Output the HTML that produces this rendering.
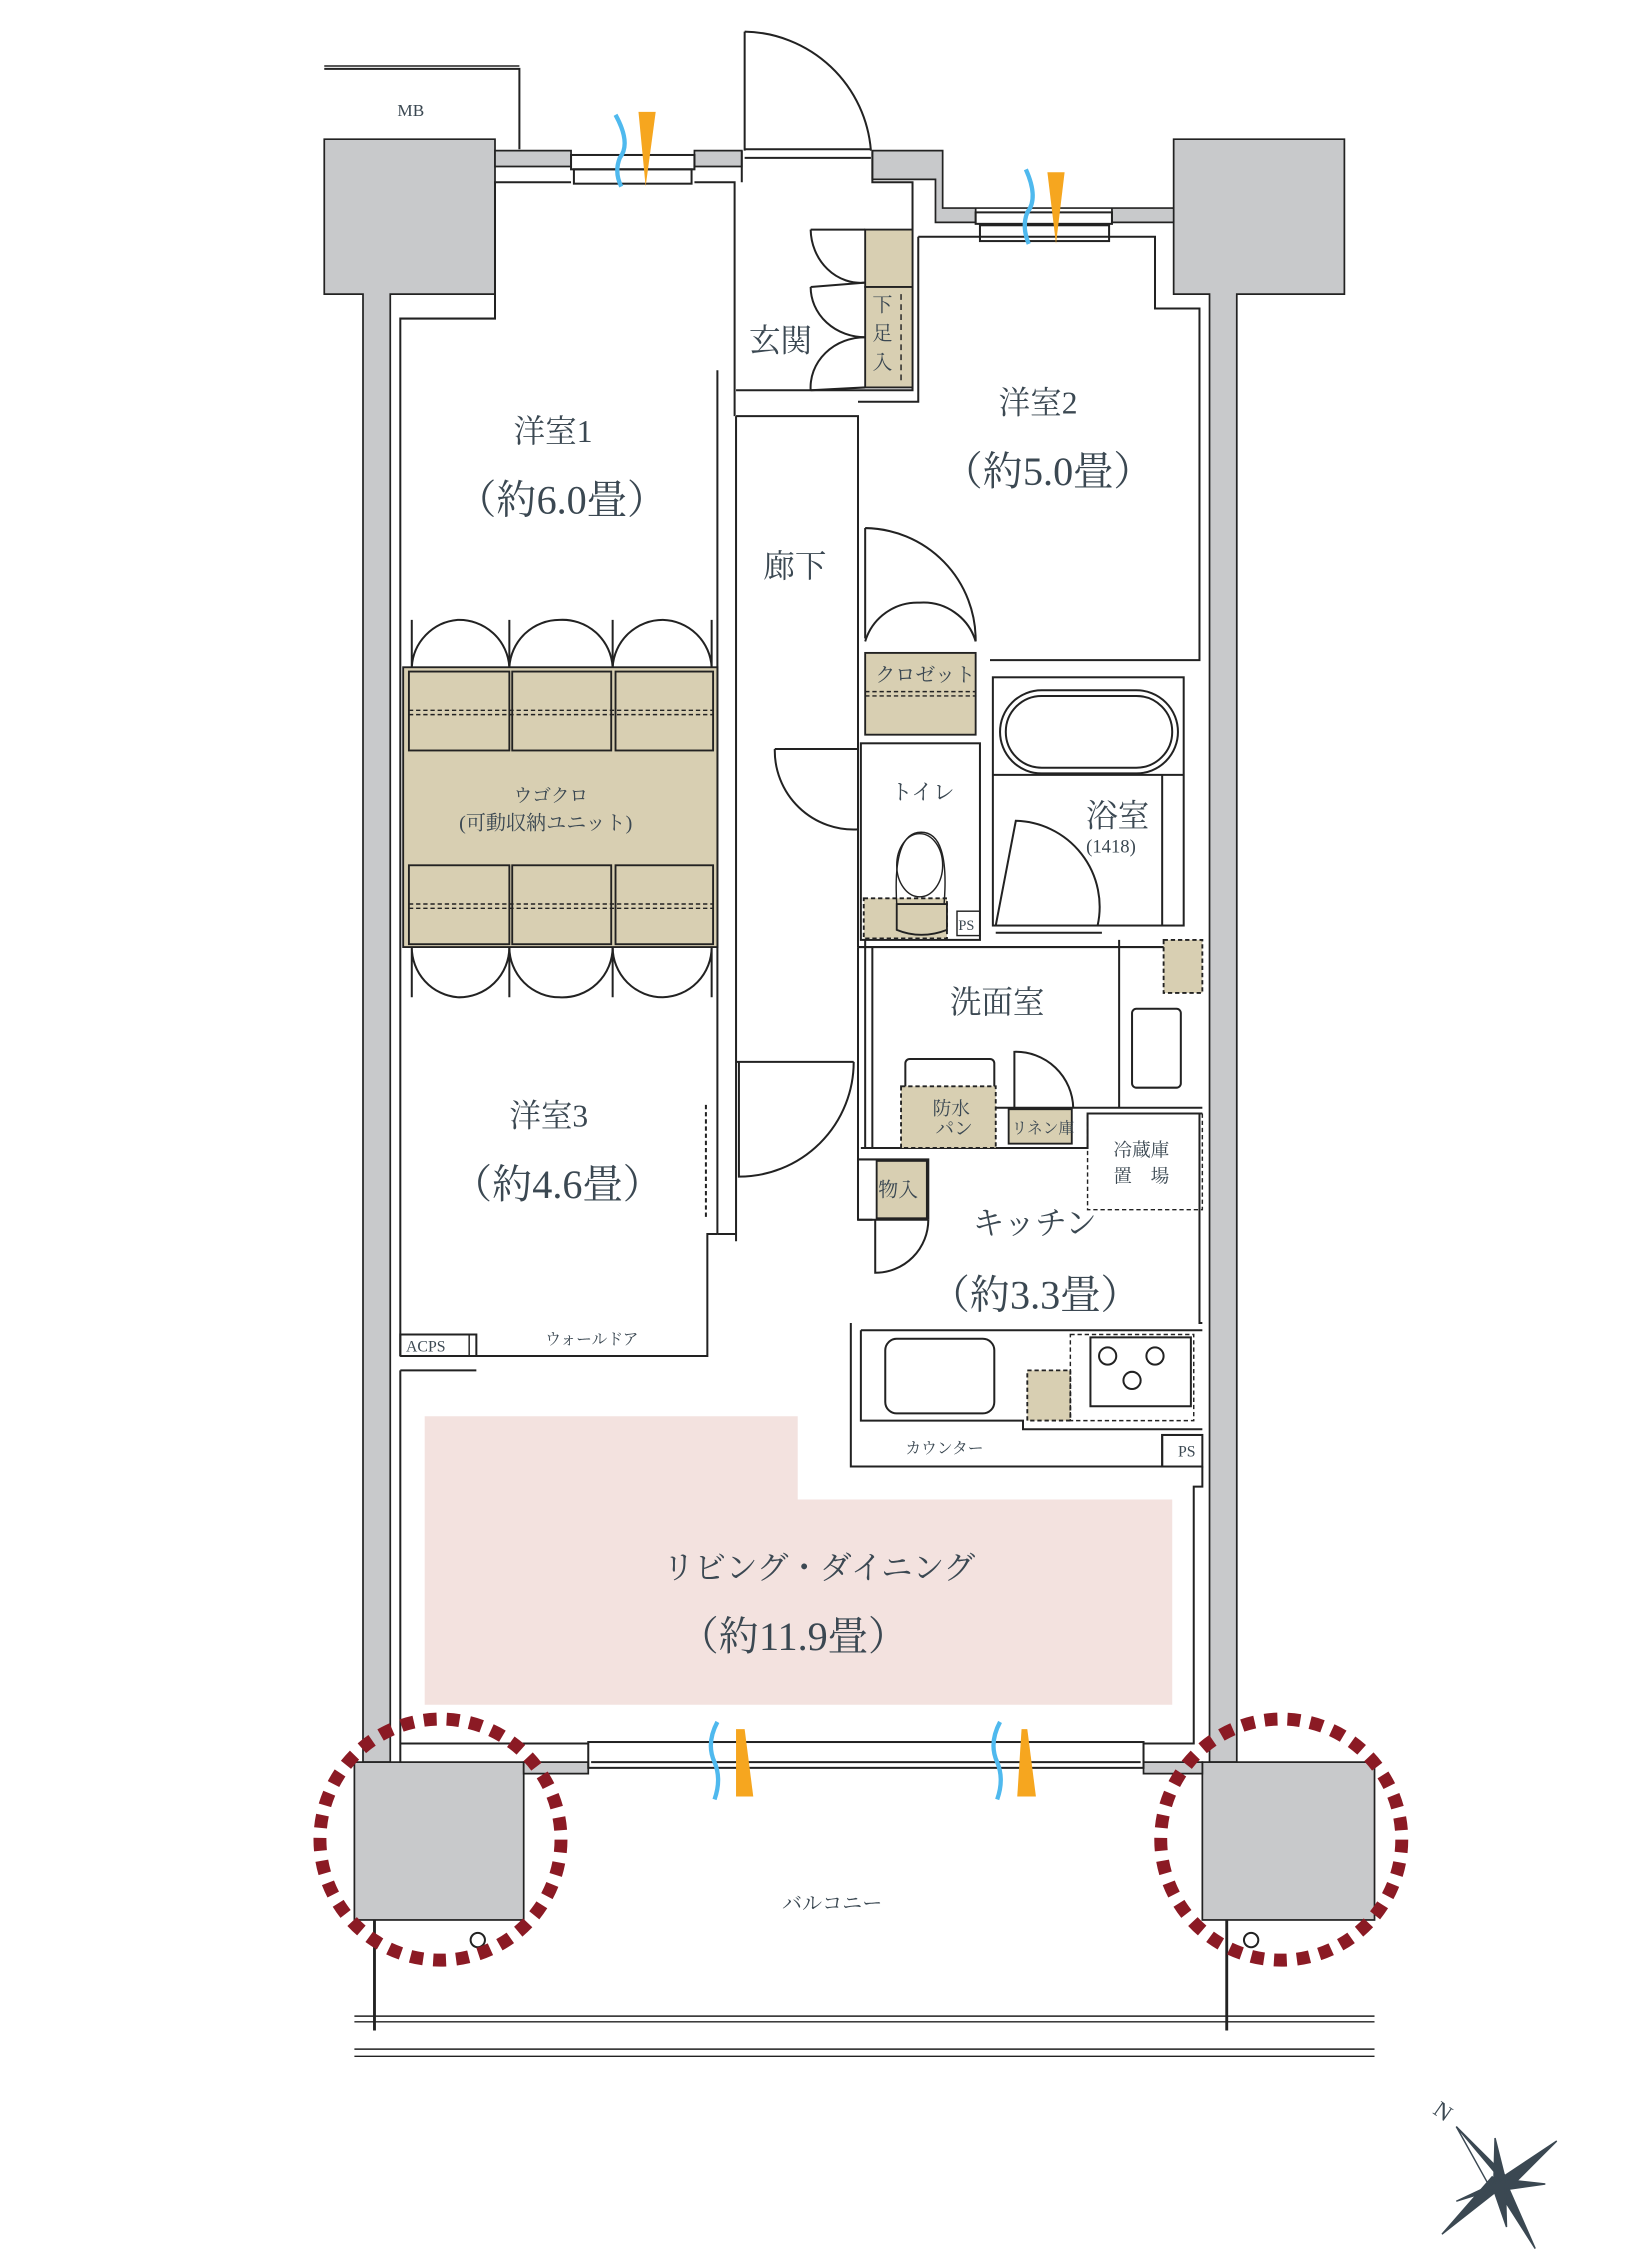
<!DOCTYPE html>
<html><head><meta charset="utf-8"><style>
html,body{margin:0;padding:0;background:#fff;}
svg{display:block;}
text{font-family:"Liberation Serif","Noto Serif CJK JP",serif;fill:#3b4852;}
</style></head><body>
<svg width="1650" height="2250" viewBox="0 0 1150 1568" preserveAspectRatio="none" xmlns="http://www.w3.org/2000/svg">
<g stroke="#222" stroke-width="1.4" fill="none">
<path d="M226 48 H362 V104" />
<path d="M226 46 H362" stroke-width="1"/>
</g>
<text x="277" y="81" font-size="12">MB</text>

<g fill="#c8c9cb" stroke="#222" stroke-width="1.2">
<path d="M226 97 H345 V205 H272 V1228 H253 V205 H226 Z"/>
<path d="M818 97 H937 V205 H862 V1228 H843 V205 H818 Z"/>
<path d="M345 105 H398 V116 H345 Z"/>
<path d="M484 105 H517 V116 H484 Z"/>
<path d="M608 105 H657 V145 H818 V155 H775 V145 H680 V155 H652 V125 H608 Z"/>
<rect x="247" y="1228" width="118" height="110"/>
<rect x="838" y="1228" width="120" height="110"/>
<path d="M365 1228 H410 V1236 H365 Z"/>
<path d="M797 1228 H838 V1236 H797 Z"/>
</g>

<path d="M296 987 H556 V1045 H817 V1188 H296 Z" fill="#f3e2df"/>

<g stroke="#222" stroke-width="1.4" fill="none">
<path d="M279 945 V222 H345 V127 H398"/>
<path d="M484 127 H512 V290"/>
<path d="M500 258 V860 M513 290 V865 M500 860 H513"/>
<path d="M517 105 V127 M608 105 V127 H636 V160"/>
<path d="M519 22 A90 90 0 0 1 607 105 M519 22 V105"/>
<path d="M519 104 H607 M519 110 H607"/>
<path d="M513 272 H598 M513 290 H598 V660"/>
<path d="M636 160 V272 H598"/>
<path d="M640 165 H805 V215 H836 V460 H690"/>
<path d="M598 280 H640 V165"/>
<path d="M603 368 A78 78 0 0 1 680 447"/>
<path d="M603 368 V445"/>
<path d="M603 447 A38 38 0 0 1 641 420 A38 38 0 0 1 680 447"/>
<rect x="398" y="108" width="86" height="10"/>
<rect x="400" y="118" width="82" height="10"/>
<rect x="680" y="148" width="95" height="8"/>
<rect x="683" y="157" width="90" height="11"/>
<path d="M565 160 A35 38 0 0 0 603 197 M565 160 H603"/>
<path d="M565 200 A38 35 0 0 0 603 235 M565 200 L603 197"/>
<path d="M565 272 A38 35 0 0 1 603 235 M565 272 L603 270"/>
<path d="M287 432 V465 A35 35 0 0 1 319 432 A35 35 0 0 1 355 465 A35 35 0 0 1 390 432 A35 35 0 0 1 427 465 A35 35 0 0 1 462 432 A35 35 0 0 1 496 465 V432"/>
<path d="M287 695 V660 A35 35 0 0 0 319 695 A35 35 0 0 0 355 660 A35 35 0 0 0 390 695 A35 35 0 0 0 427 660 A35 35 0 0 0 462 695 A35 35 0 0 0 496 660 V695"/>
<path d="M355 432 V465 M427 432 V465 M355 660 V695 M427 660 V695"/>
<path d="M279 945 V930 H332 V945 H279 M332 945 H493 V860 H500"/>
<path d="M492 770 V850" stroke-dasharray="3 2"/>
<path d="M279 955 V1228 M279 955 H332"/>
<path d="M513 740 H595 M515 740 V820 A80 80 0 0 0 595 740"/>
<path d="M540 522 A55 55 0 0 0 598 578 M540 522 H598"/>
<rect x="600" y="518" width="83" height="137"/>
<path d="M598 660 H838"/>
<path d="M598 660 V850 H608"/>
<path d="M603 655 V800 M608 660 V800"/>
<rect x="692" y="472" width="133" height="173"/>
<path d="M692 540 H825 M810 540 V645"/>
<rect x="697" y="481" width="124" height="58" rx="29"/>
<rect x="701" y="485" width="116" height="50" rx="25"/>
<path d="M694 645 L708 572 A60 60 0 0 1 765 645 M694 650 H768"/>
<path d="M780 655 V772 H838 M693 772 H780"/>
<rect x="789" y="703" width="34" height="55" rx="3"/>
<rect x="631" y="738" width="62" height="62" rx="3"/>
<path d="M707 773 V733 A40 40 0 0 1 748 772"/>
<path d="M600 800 H758 V776 H838"/>
<path d="M598 850 V808 H647 V850 M647 850 H598"/>
<path d="M610 850 V887 A37 37 0 0 0 647 850"/>
<path d="M836 776 V922 H838"/>
<path d="M593 922 V1022 H810 V1000 H838"/>
<path d="M600 927 H838 M600 927 V990 H713 V996 H838"/>
<rect x="617" y="933" width="76" height="52" rx="8"/>
<rect x="760" y="932" width="70" height="48"/>
<circle cx="772" cy="945" r="6"/><circle cx="805" cy="945" r="6"/><circle cx="789" cy="962" r="6"/>
<rect x="810" y="1000" width="28" height="22"/>
<path d="M838 1022 V1036 H832 V1215 H797"/>
<path d="M279 1215 H410"/>
<rect x="410" y="1214" width="387" height="18"/>
<path d="M412 1228 H795"/>
<path d="M247 1405 H958 M247 1409 H958 M247 1428 H958 M247 1433 H958" stroke-width="1"/>
<path d="M261 1338 V1415 M855 1338 V1415" stroke-width="2"/>
<circle cx="333" cy="1352" r="5"/>
<circle cx="872" cy="1352" r="5"/>
</g>

<g fill="#d8cfb2" stroke="#222" stroke-width="1.3">
<rect x="281" y="465" width="219" height="195"/>
<rect x="285" y="468" width="70" height="55"/><rect x="357" y="468" width="69" height="55"/><rect x="429" y="468" width="68" height="55"/>
<rect x="285" y="603" width="70" height="55"/><rect x="357" y="603" width="69" height="55"/><rect x="429" y="603" width="68" height="55"/>
<rect x="603" y="160" width="33" height="40"/>
<rect x="603" y="200" width="33" height="70"/>
<rect x="603" y="455" width="77" height="57"/>
<rect x="602" y="626" width="58" height="28" stroke-dasharray="3 2"/>
<path d="M625 630 H660 V648 Q642 655 625 648 Z"/>
<rect x="611" y="809" width="35" height="40"/>
<rect x="628" y="757" width="66" height="43" stroke-dasharray="3 2"/>
<rect x="703" y="773" width="44" height="24"/>
<rect x="811" y="655" width="27" height="37" stroke-dasharray="3 2"/>
<rect x="716" y="955" width="30" height="35" stroke-dasharray="3 2"/>
</g>
<g stroke="#222" fill="none" stroke-width="1">
<path d="M285 495 H497 M285 498 H497 M285 630 H497 M285 633 H497" stroke-dasharray="3 2"/>
<path d="M603 482 H680 M603 485 H680" stroke-dasharray="3 2"/>
<path d="M628 205 V268" stroke-dasharray="4 3"/>
<rect x="758" y="776" width="80" height="67" stroke-dasharray="3 2"/>
<rect x="746" y="930" width="86" height="60" stroke-dasharray="3 2"/>
<path d="M625 630 Q622 580 642 580 Q662 580 658 630"/>
<rect x="667" y="635" width="16" height="17"/>
<rect x="279" y="930" width="48" height="15"/>
</g>
<ellipse cx="641" cy="603" rx="16" ry="22" fill="none" stroke="#222"/>

<g>
<path d="M445 78 L457 78 L450 130 Z" fill="#f6a61f"/>
<path d="M429 80 Q440 100 432 110 Q428 120 433 130" stroke="#4fb9ee" stroke-width="3" fill="none"/>
<path d="M730 120 L742 120 L736 170 Z" fill="#f6a61f"/>
<path d="M715 118 Q724 138 716 148 Q712 158 717 170" stroke="#4fb9ee" stroke-width="3" fill="none"/>
<path d="M513 1205 L519 1205 L525 1252 L513 1252 Z" fill="#f6a61f"/>
<path d="M500 1200 Q492 1215 498 1228 Q503 1240 498 1254" stroke="#4fb9ee" stroke-width="3" fill="none"/>
<path d="M712 1205 L716 1205 L722 1252 L709 1252 Z" fill="#f6a61f"/>
<path d="M697 1200 Q689 1215 695 1228 Q700 1240 695 1254" stroke="#4fb9ee" stroke-width="3" fill="none"/>
</g>

<g fill="none" stroke="#8b1a24" stroke-width="9" stroke-dasharray="9 7">
<circle cx="307" cy="1282" r="84"/>
<circle cx="893" cy="1282" r="84"/>
</g>

<g transform="translate(1045,1522)" fill="#3b4852" stroke="#3b4852" stroke-width="1">
<path d="M-30 -40 L5 -5 L-2 2 Z"/>
<path d="M-30 -40 L2 -2 L-5 5 Z" fill="#fff"/>
<path d="M40 -30 L5 5 L-2 -2 Z"/>
<path d="M-40 35 L-5 -5 L2 2 Z"/>
<path d="M25 45 L-5 -2 L3 -5 Z"/>
<path d="M-3 -32 L4 -4 L-4 4 Z"/>
<path d="M32 0 L4 4 L-4 -4 Z"/>
<path d="M-30 12 L-4 4 L4 -4 Z"/>
<path d="M5 30 L4 -4 L-4 4 Z"/>
</g>
<text x="1000" y="1478" font-size="16" transform="rotate(35 1008 1472)">N</text>

<g font-size="22">
<text x="358" y="308">洋室1</text>
<text x="318" y="358" font-size="28">（約6.0畳）</text>
<text x="696" y="288">洋室2</text>
<text x="657" y="338" font-size="28">（約5.0畳）</text>
<text x="355" y="785">洋室3</text>
<text x="315" y="835" font-size="28">（約4.6畳）</text>
<text x="522" y="245">玄関</text>
<text x="532" y="402">廊下</text>
<text x="662" y="706">洗面室</text>
<text x="757" y="576">浴室</text>
<text x="678" y="860">キッチン</text>
<text x="648" y="912" font-size="28">（約3.3畳）</text>
<text x="462" y="1100">リビング・ダイニング</text>
<text x="473" y="1150" font-size="28">（約11.9畳）</text>
</g>
<g font-size="13">
<text x="358" y="559">ウゴクロ</text>
<text x="320" y="578" font-size="14">(可動収納ユニット)</text>
<text x="757" y="594" font-size="13">(1418)</text>
<text x="610" y="475" font-size="14">クロゼット</text>
<text x="621" y="557" font-size="15">トイレ</text>
<text x="650" y="777">防水</text>
<text x="652" y="791">パン</text>
<text x="705" y="790" font-size="11">リネン庫</text>
<text x="612" y="834" font-size="14">物入</text>
<text x="776" y="806">冷蔵庫</text>
<text x="776" y="824">置　場</text>
<text x="380" y="937" font-size="11">ウォールドア</text>
<text x="283" y="942" font-size="11">ACPS</text>
<text x="668" y="648" font-size="10">PS</text>
<text x="821" y="1015" font-size="11">PS</text>
<text x="631" y="1013" font-size="11">カウンター</text>
<text x="545" y="1331" font-size="14">バルコニー</text>
<text x="608" y="217" font-size="14">下</text>
<text x="608" y="237" font-size="14">足</text>
<text x="608" y="257" font-size="14">入</text>
</g>
</svg>
</body></html>
